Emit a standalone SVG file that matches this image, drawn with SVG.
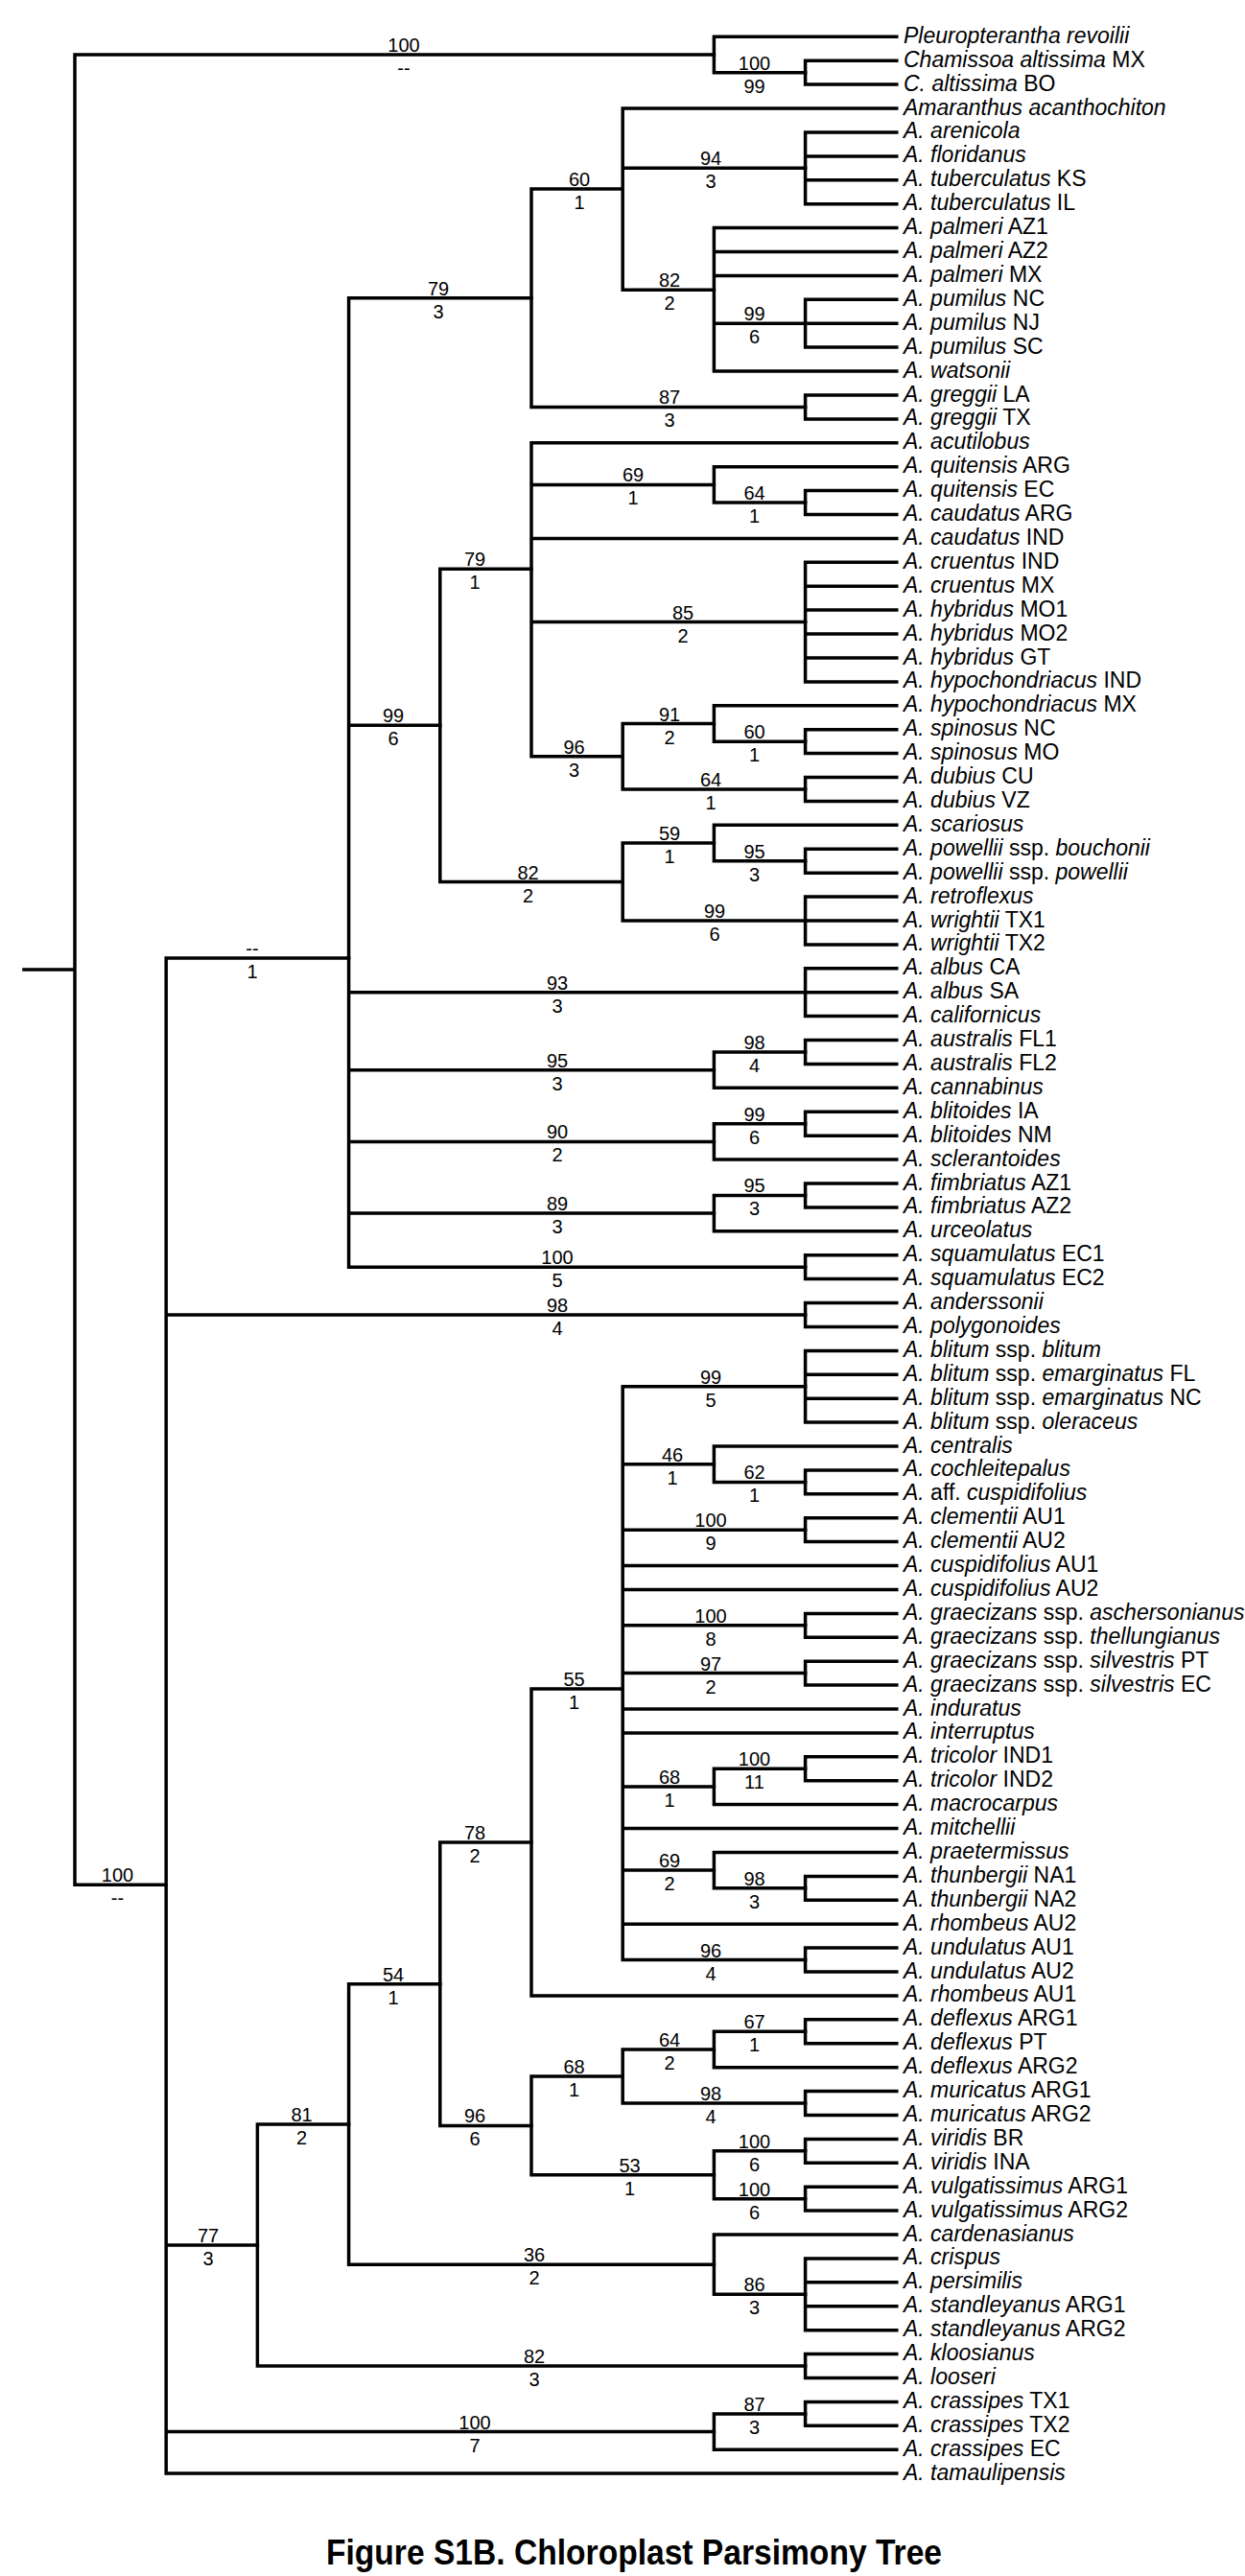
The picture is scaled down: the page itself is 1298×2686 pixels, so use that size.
<svg xmlns="http://www.w3.org/2000/svg" width="1298" height="2686" viewBox="0 0 1298 2686">
<style>
.br{stroke:#000;stroke-width:3.5;fill:none;stroke-linecap:square}
.t{font-family:"Liberation Sans",Arial,sans-serif;font-size:23px;fill:#000}
.i{font-style:italic}
.s{font-family:"Liberation Sans",Arial,sans-serif;font-size:20px;fill:#000;text-anchor:middle}
.ti{font-family:"Liberation Sans",Arial,sans-serif;font-size:36px;font-weight:bold;fill:#000}
</style>
<rect width="1298" height="2686" fill="#fff"/>
<g id="connectors">
<path class="br" d="M25 1011.1H78M78 57V1965.2M78 57H744.4M78 1965.2H173.2"/>
<path class="br" d="M744.4 38.3V75.7M744.4 38.3H934.8M744.4 75.7H839.6"/>
<path class="br" d="M839.6 63.2V88.1M839.6 63.2H934.8M839.6 88.1H934.8"/>
<path class="br" d="M173.2 999.1V2579.1M173.2 999.1H363.6M173.2 1371H839.6M173.2 2341H268.4M173.2 2535.5H744.4M173.2 2579.1H934.8"/>
<path class="br" d="M363.6 310.7V1321.2M363.6 310.7H554M363.6 756.3H458.8M363.6 1034.7H839.6M363.6 1115.7H744.4M363.6 1190.4H744.4M363.6 1265.1H744.4M363.6 1321.2H839.6"/>
<path class="br" d="M554 196.9V424.4M554 196.9H649.2M554 424.4H839.6"/>
<path class="br" d="M649.2 113V302.3M649.2 113H934.8M649.2 175.3H839.6M649.2 302.3H744.4"/>
<path class="br" d="M839.6 137.9V212.7M839.6 137.9H934.8M839.6 162.9H934.8M839.6 187.8H934.8M839.6 212.7H934.8"/>
<path class="br" d="M744.4 237.6V387M744.4 237.6H934.8M744.4 262.5H934.8M744.4 287.4H934.8M744.4 337.2H839.6M744.4 387H934.8"/>
<path class="br" d="M839.6 312.3V362.1M839.6 312.3H934.8M839.6 337.2H934.8M839.6 362.1H934.8"/>
<path class="br" d="M839.6 412V436.9M839.6 412H934.8M839.6 436.9H934.8"/>
<path class="br" d="M458.8 593.2V919.5M458.8 593.2H554M458.8 919.5H649.2"/>
<path class="br" d="M554 461.8V788.7M554 461.8H934.8M554 505.4H744.4M554 561.4H934.8M554 648.6H839.6M554 788.7H649.2"/>
<path class="br" d="M744.4 486.7V524.1M744.4 486.7H934.8M744.4 524.1H839.6"/>
<path class="br" d="M839.6 511.6V536.5M839.6 511.6H934.8M839.6 536.5H934.8"/>
<path class="br" d="M839.6 586.3V710.9M839.6 586.3H934.8M839.6 611.2H934.8M839.6 636.1H934.8M839.6 661.1H934.8M839.6 686H934.8M839.6 710.9H934.8"/>
<path class="br" d="M649.2 754.5V823M649.2 754.5H744.4M649.2 823H839.6"/>
<path class="br" d="M744.4 735.8V773.2M744.4 735.8H934.8M744.4 773.2H839.6"/>
<path class="br" d="M839.6 760.7V785.6M839.6 760.7H934.8M839.6 785.6H934.8"/>
<path class="br" d="M839.6 810.5V835.4M839.6 810.5H934.8M839.6 835.4H934.8"/>
<path class="br" d="M649.2 879V960M649.2 879H744.4M649.2 960H839.6"/>
<path class="br" d="M744.4 860.3V897.7M744.4 860.3H934.8M744.4 897.7H839.6"/>
<path class="br" d="M839.6 885.2V910.2M839.6 885.2H934.8M839.6 910.2H934.8"/>
<path class="br" d="M839.6 935.1V984.9M839.6 935.1H934.8M839.6 960H934.8M839.6 984.9H934.8"/>
<path class="br" d="M839.6 1009.8V1059.6M839.6 1009.8H934.8M839.6 1034.7H934.8M839.6 1059.6H934.8"/>
<path class="br" d="M744.4 1097V1134.3M744.4 1097H839.6M744.4 1134.3H934.8"/>
<path class="br" d="M839.6 1084.5V1109.4M839.6 1084.5H934.8M839.6 1109.4H934.8"/>
<path class="br" d="M744.4 1171.7V1209.1M744.4 1171.7H839.6M744.4 1209.1H934.8"/>
<path class="br" d="M839.6 1159.3V1184.2M839.6 1159.3H934.8M839.6 1184.2H934.8"/>
<path class="br" d="M744.4 1246.4V1283.8M744.4 1246.4H839.6M744.4 1283.8H934.8"/>
<path class="br" d="M839.6 1234V1258.9M839.6 1234H934.8M839.6 1258.9H934.8"/>
<path class="br" d="M839.6 1308.7V1333.6M839.6 1308.7H934.8M839.6 1333.6H934.8"/>
<path class="br" d="M839.6 1358.5V1383.4M839.6 1358.5H934.8M839.6 1383.4H934.8"/>
<path class="br" d="M268.4 2215V2467M268.4 2215H363.6M268.4 2467H839.6"/>
<path class="br" d="M363.6 2068.7V2361.2M363.6 2068.7H458.8M363.6 2361.2H744.4"/>
<path class="br" d="M458.8 1921V2216.4M458.8 1921H554M458.8 2216.4H554"/>
<path class="br" d="M554 1761.1V2080.9M554 1761.1H649.2M554 2080.9H934.8"/>
<path class="br" d="M649.2 1445.7V2043.6M649.2 1445.7H839.6M649.2 1526.7H744.4M649.2 1595.2H839.6M649.2 1632.5H934.8M649.2 1657.5H934.8M649.2 1694.8H839.6M649.2 1744.6H839.6M649.2 1782H934.8M649.2 1806.9H934.8M649.2 1863H744.4M649.2 1906.6H934.8M649.2 1950.1H744.4M649.2 2006.2H934.8M649.2 2043.6H839.6"/>
<path class="br" d="M839.6 1408.4V1483.1M839.6 1408.4H934.8M839.6 1433.3H934.8M839.6 1458.2H934.8M839.6 1483.1H934.8"/>
<path class="br" d="M744.4 1508V1545.4M744.4 1508H934.8M744.4 1545.4H839.6"/>
<path class="br" d="M839.6 1532.9V1557.8M839.6 1532.9H934.8M839.6 1557.8H934.8"/>
<path class="br" d="M839.6 1582.7V1607.6M839.6 1582.7H934.8M839.6 1607.6H934.8"/>
<path class="br" d="M839.6 1682.4V1707.3M839.6 1682.4H934.8M839.6 1707.3H934.8"/>
<path class="br" d="M839.6 1732.2V1757.1M839.6 1732.2H934.8M839.6 1757.1H934.8"/>
<path class="br" d="M744.4 1844.3V1881.6M744.4 1844.3H839.6M744.4 1881.6H934.8"/>
<path class="br" d="M839.6 1831.8V1856.7M839.6 1831.8H934.8M839.6 1856.7H934.8"/>
<path class="br" d="M744.4 1931.5V1968.8M744.4 1931.5H934.8M744.4 1968.8H839.6"/>
<path class="br" d="M839.6 1956.4V1981.3M839.6 1956.4H934.8M839.6 1981.3H934.8"/>
<path class="br" d="M839.6 2031.1V2056M839.6 2031.1H934.8M839.6 2056H934.8"/>
<path class="br" d="M554 2165V2267.7M554 2165H649.2M554 2267.7H744.4"/>
<path class="br" d="M649.2 2137V2193M649.2 2137H744.4M649.2 2193H839.6"/>
<path class="br" d="M744.4 2118.3V2155.7M744.4 2118.3H839.6M744.4 2155.7H934.8"/>
<path class="br" d="M839.6 2105.8V2130.7M839.6 2105.8H934.8M839.6 2130.7H934.8"/>
<path class="br" d="M839.6 2180.6V2205.5M839.6 2180.6H934.8M839.6 2205.5H934.8"/>
<path class="br" d="M744.4 2242.8V2292.7M744.4 2242.8H839.6M744.4 2292.7H839.6"/>
<path class="br" d="M839.6 2230.4V2255.3M839.6 2230.4H934.8M839.6 2255.3H934.8"/>
<path class="br" d="M839.6 2280.2V2305.1M839.6 2280.2H934.8M839.6 2305.1H934.8"/>
<path class="br" d="M744.4 2330V2392.3M744.4 2330H934.8M744.4 2392.3H839.6"/>
<path class="br" d="M839.6 2354.9V2429.7M839.6 2354.9H934.8M839.6 2379.8H934.8M839.6 2404.8H934.8M839.6 2429.7H934.8"/>
<path class="br" d="M839.6 2454.6V2479.5M839.6 2454.6H934.8M839.6 2479.5H934.8"/>
<path class="br" d="M744.4 2516.9V2554.2M744.4 2516.9H839.6M744.4 2554.2H934.8"/>
<path class="br" d="M839.6 2504.4V2529.3M839.6 2504.4H934.8M839.6 2529.3H934.8"/>
</g>
<g id="support-labels">
<g id="n-A"><text class="s" x="421" y="54">100</text><text class="s" x="421" y="78">--</text></g>
<g id="n-B"><text class="s" x="786.5" y="72.7">100</text><text class="s" x="786.5" y="96.7">99</text></g>
<g id="n-G1a"><text class="s" x="741" y="172.3">94</text><text class="s" x="741" y="196.3">3</text></g>
<g id="n-G1"><text class="s" x="604" y="193.9">60</text><text class="s" x="604" y="217.9">1</text></g>
<g id="n-G1b"><text class="s" x="698" y="299.3">82</text><text class="s" x="698" y="323.3">2</text></g>
<g id="n-G1b1"><text class="s" x="786.5" y="334.2">99</text><text class="s" x="786.5" y="358.2">6</text></g>
<g id="n-G"><text class="s" x="457" y="307.7">79</text><text class="s" x="457" y="331.7">3</text></g>
<g id="n-G2"><text class="s" x="698" y="421.4">87</text><text class="s" x="698" y="445.4">3</text></g>
<g id="n-H1a"><text class="s" x="660" y="502.4">69</text><text class="s" x="660" y="526.4">1</text></g>
<g id="n-H1a1"><text class="s" x="786.5" y="521.1">64</text><text class="s" x="786.5" y="545.1">1</text></g>
<g id="n-H1"><text class="s" x="495" y="590.2">79</text><text class="s" x="495" y="614.2">1</text></g>
<g id="n-H1b"><text class="s" x="712" y="645.6">85</text><text class="s" x="712" y="669.6">2</text></g>
<g id="n-H"><text class="s" x="410" y="753.3">99</text><text class="s" x="410" y="777.3">6</text></g>
<g id="n-H1c1"><text class="s" x="698" y="751.5">91</text><text class="s" x="698" y="775.5">2</text></g>
<g id="n-H1c1a"><text class="s" x="786.5" y="770.2">60</text><text class="s" x="786.5" y="794.2">1</text></g>
<g id="n-H1c"><text class="s" x="598.5" y="785.7">96</text><text class="s" x="598.5" y="809.7">3</text></g>
<g id="n-H1c2"><text class="s" x="741" y="820">64</text><text class="s" x="741" y="844">1</text></g>
<g id="n-H2a"><text class="s" x="698" y="876">59</text><text class="s" x="698" y="900">1</text></g>
<g id="n-H2a1"><text class="s" x="786.5" y="894.7">95</text><text class="s" x="786.5" y="918.7">3</text></g>
<g id="n-H2"><text class="s" x="550.5" y="916.5">82</text><text class="s" x="550.5" y="940.5">2</text></g>
<g id="n-H2b"><text class="s" x="745" y="957">99</text><text class="s" x="745" y="981">6</text></g>
<g id="n-C"><text class="s" x="263" y="996.1">--</text><text class="s" x="263" y="1020.1">1</text></g>
<g id="n-J"><text class="s" x="581" y="1031.7">93</text><text class="s" x="581" y="1055.7">3</text></g>
<g id="n-K1"><text class="s" x="786.5" y="1094">98</text><text class="s" x="786.5" y="1118">4</text></g>
<g id="n-K"><text class="s" x="581" y="1112.7">95</text><text class="s" x="581" y="1136.7">3</text></g>
<g id="n-L1"><text class="s" x="786.5" y="1168.7">99</text><text class="s" x="786.5" y="1192.7">6</text></g>
<g id="n-L"><text class="s" x="581" y="1187.4">90</text><text class="s" x="581" y="1211.4">2</text></g>
<g id="n-M1"><text class="s" x="786.5" y="1243.4">95</text><text class="s" x="786.5" y="1267.4">3</text></g>
<g id="n-M"><text class="s" x="581" y="1262.1">89</text><text class="s" x="581" y="1286.1">3</text></g>
<g id="n-N"><text class="s" x="581" y="1318.2">100</text><text class="s" x="581" y="1342.2">5</text></g>
<g id="n-D"><text class="s" x="581" y="1368">98</text><text class="s" x="581" y="1392">4</text></g>
<g id="n-P1"><text class="s" x="741" y="1442.7">99</text><text class="s" x="741" y="1466.7">5</text></g>
<g id="n-P2"><text class="s" x="701" y="1523.7">46</text><text class="s" x="701" y="1547.7">1</text></g>
<g id="n-P2a"><text class="s" x="786.5" y="1542.4">62</text><text class="s" x="786.5" y="1566.4">1</text></g>
<g id="n-P3"><text class="s" x="741" y="1592.2">100</text><text class="s" x="741" y="1616.2">9</text></g>
<g id="n-P4"><text class="s" x="741" y="1691.8">100</text><text class="s" x="741" y="1715.8">8</text></g>
<g id="n-P5"><text class="s" x="741" y="1741.6">97</text><text class="s" x="741" y="1765.6">2</text></g>
<g id="n-E1a1a"><text class="s" x="598.5" y="1758.1">55</text><text class="s" x="598.5" y="1782.1">1</text></g>
<g id="n-P6a"><text class="s" x="786.5" y="1841.3">100</text><text class="s" x="786.5" y="1865.3">11</text></g>
<g id="n-P6"><text class="s" x="698" y="1860">68</text><text class="s" x="698" y="1884">1</text></g>
<g id="n-E1a1"><text class="s" x="495" y="1918">78</text><text class="s" x="495" y="1942">2</text></g>
<g id="n-P7"><text class="s" x="698" y="1947.1">69</text><text class="s" x="698" y="1971.1">2</text></g>
<g id="n-P7a"><text class="s" x="786.5" y="1965.8">98</text><text class="s" x="786.5" y="1989.8">3</text></g>
<g id="n-P8"><text class="s" x="741" y="2040.6">96</text><text class="s" x="741" y="2064.6">4</text></g>
<g id="n-I"><text class="s" x="122.5" y="1962.2">100</text><text class="s" x="122.5" y="1986.2">--</text></g>
<g id="n-E1a"><text class="s" x="410" y="2065.7">54</text><text class="s" x="410" y="2089.7">1</text></g>
<g id="n-Q1a1"><text class="s" x="786.5" y="2115.3">67</text><text class="s" x="786.5" y="2139.3">1</text></g>
<g id="n-Q1a"><text class="s" x="698" y="2134">64</text><text class="s" x="698" y="2158">2</text></g>
<g id="n-Q1"><text class="s" x="598.5" y="2162">68</text><text class="s" x="598.5" y="2186">1</text></g>
<g id="n-Q1b"><text class="s" x="741" y="2190">98</text><text class="s" x="741" y="2214">4</text></g>
<g id="n-E1"><text class="s" x="314.6" y="2212">81</text><text class="s" x="314.6" y="2236">2</text></g>
<g id="n-E1a2"><text class="s" x="495" y="2213.4">96</text><text class="s" x="495" y="2237.4">6</text></g>
<g id="n-Q2a"><text class="s" x="786.5" y="2239.8">100</text><text class="s" x="786.5" y="2263.8">6</text></g>
<g id="n-Q2"><text class="s" x="656.5" y="2264.7">53</text><text class="s" x="656.5" y="2288.7">1</text></g>
<g id="n-Q2b"><text class="s" x="786.5" y="2289.7">100</text><text class="s" x="786.5" y="2313.7">6</text></g>
<g id="n-E"><text class="s" x="217" y="2338">77</text><text class="s" x="217" y="2362">3</text></g>
<g id="n-E1b"><text class="s" x="557" y="2358.2">36</text><text class="s" x="557" y="2382.2">2</text></g>
<g id="n-E1b1"><text class="s" x="786.5" y="2389.3">86</text><text class="s" x="786.5" y="2413.3">3</text></g>
<g id="n-E2"><text class="s" x="557" y="2464">82</text><text class="s" x="557" y="2488">3</text></g>
<g id="n-F1"><text class="s" x="786.5" y="2513.9">87</text><text class="s" x="786.5" y="2537.9">3</text></g>
<g id="n-F"><text class="s" x="495" y="2532.5">100</text><text class="s" x="495" y="2556.5">7</text></g>
</g>
<g id="taxa">
<g id="leaf-1"><text class="t" x="942" y="44.8"><tspan class="i">Pleuropterantha revoilii</tspan></text></g>
<g id="leaf-2"><text class="t" x="942" y="69.7"><tspan class="i">Chamissoa altissima</tspan> MX</text></g>
<g id="leaf-3"><text class="t" x="942" y="94.6"><tspan class="i">C. altissima</tspan> BO</text></g>
<g id="leaf-4"><text class="t" x="942" y="119.5"><tspan class="i">Amaranthus acanthochiton</tspan></text></g>
<g id="leaf-5"><text class="t" x="942" y="144.4"><tspan class="i">A. arenicola</tspan></text></g>
<g id="leaf-6"><text class="t" x="942" y="169.4"><tspan class="i">A. floridanus</tspan></text></g>
<g id="leaf-7"><text class="t" x="942" y="194.3"><tspan class="i">A. tuberculatus</tspan> KS</text></g>
<g id="leaf-8"><text class="t" x="942" y="219.2"><tspan class="i">A. tuberculatus</tspan> IL</text></g>
<g id="leaf-9"><text class="t" x="942" y="244.1"><tspan class="i">A. palmeri</tspan> AZ1</text></g>
<g id="leaf-10"><text class="t" x="942" y="269"><tspan class="i">A. palmeri</tspan> AZ2</text></g>
<g id="leaf-11"><text class="t" x="942" y="293.9"><tspan class="i">A. palmeri</tspan> MX</text></g>
<g id="leaf-12"><text class="t" x="942" y="318.8"><tspan class="i">A. pumilus</tspan> NC</text></g>
<g id="leaf-13"><text class="t" x="942" y="343.7"><tspan class="i">A. pumilus</tspan> NJ</text></g>
<g id="leaf-14"><text class="t" x="942" y="368.6"><tspan class="i">A. pumilus</tspan> SC</text></g>
<g id="leaf-15"><text class="t" x="942" y="393.5"><tspan class="i">A. watsonii</tspan></text></g>
<g id="leaf-16"><text class="t" x="942" y="418.5"><tspan class="i">A. greggii</tspan> LA</text></g>
<g id="leaf-17"><text class="t" x="942" y="443.4"><tspan class="i">A. greggii</tspan> TX</text></g>
<g id="leaf-18"><text class="t" x="942" y="468.3"><tspan class="i">A. acutilobus</tspan></text></g>
<g id="leaf-19"><text class="t" x="942" y="493.2"><tspan class="i">A. quitensis</tspan> ARG</text></g>
<g id="leaf-20"><text class="t" x="942" y="518.1"><tspan class="i">A. quitensis</tspan> EC</text></g>
<g id="leaf-21"><text class="t" x="942" y="543"><tspan class="i">A. caudatus</tspan> ARG</text></g>
<g id="leaf-22"><text class="t" x="942" y="567.9"><tspan class="i">A. caudatus</tspan> IND</text></g>
<g id="leaf-23"><text class="t" x="942" y="592.8"><tspan class="i">A. cruentus</tspan> IND</text></g>
<g id="leaf-24"><text class="t" x="942" y="617.7"><tspan class="i">A. cruentus</tspan> MX</text></g>
<g id="leaf-25"><text class="t" x="942" y="642.6"><tspan class="i">A. hybridus</tspan> MO1</text></g>
<g id="leaf-26"><text class="t" x="942" y="667.6"><tspan class="i">A. hybridus</tspan> MO2</text></g>
<g id="leaf-27"><text class="t" x="942" y="692.5"><tspan class="i">A. hybridus</tspan> GT</text></g>
<g id="leaf-28"><text class="t" x="942" y="717.4"><tspan class="i">A. hypochondriacus</tspan> IND</text></g>
<g id="leaf-29"><text class="t" x="942" y="742.3"><tspan class="i">A. hypochondriacus</tspan> MX</text></g>
<g id="leaf-30"><text class="t" x="942" y="767.2"><tspan class="i">A. spinosus</tspan> NC</text></g>
<g id="leaf-31"><text class="t" x="942" y="792.1"><tspan class="i">A. spinosus</tspan> MO</text></g>
<g id="leaf-32"><text class="t" x="942" y="817"><tspan class="i">A. dubius</tspan> CU</text></g>
<g id="leaf-33"><text class="t" x="942" y="841.9"><tspan class="i">A. dubius</tspan> VZ</text></g>
<g id="leaf-34"><text class="t" x="942" y="866.8"><tspan class="i">A. scariosus</tspan></text></g>
<g id="leaf-35"><text class="t" x="942" y="891.7"><tspan class="i">A. powellii</tspan> ssp. <tspan class="i">bouchonii</tspan></text></g>
<g id="leaf-36"><text class="t" x="942" y="916.7"><tspan class="i">A. powellii</tspan> ssp. <tspan class="i">powellii</tspan></text></g>
<g id="leaf-37"><text class="t" x="942" y="941.6"><tspan class="i">A. retroflexus</tspan></text></g>
<g id="leaf-38"><text class="t" x="942" y="966.5"><tspan class="i">A. wrightii</tspan> TX1</text></g>
<g id="leaf-39"><text class="t" x="942" y="991.4"><tspan class="i">A. wrightii</tspan> TX2</text></g>
<g id="leaf-40"><text class="t" x="942" y="1016.3"><tspan class="i">A. albus</tspan> CA</text></g>
<g id="leaf-41"><text class="t" x="942" y="1041.2"><tspan class="i">A. albus</tspan> SA</text></g>
<g id="leaf-42"><text class="t" x="942" y="1066.1"><tspan class="i">A. californicus</tspan></text></g>
<g id="leaf-43"><text class="t" x="942" y="1091"><tspan class="i">A. australis</tspan> FL1</text></g>
<g id="leaf-44"><text class="t" x="942" y="1115.9"><tspan class="i">A. australis</tspan> FL2</text></g>
<g id="leaf-45"><text class="t" x="942" y="1140.8"><tspan class="i">A. cannabinus</tspan></text></g>
<g id="leaf-46"><text class="t" x="942" y="1165.8"><tspan class="i">A. blitoides</tspan> IA</text></g>
<g id="leaf-47"><text class="t" x="942" y="1190.7"><tspan class="i">A. blitoides</tspan> NM</text></g>
<g id="leaf-48"><text class="t" x="942" y="1215.6"><tspan class="i">A. sclerantoides</tspan></text></g>
<g id="leaf-49"><text class="t" x="942" y="1240.5"><tspan class="i">A. fimbriatus</tspan> AZ1</text></g>
<g id="leaf-50"><text class="t" x="942" y="1265.4"><tspan class="i">A. fimbriatus</tspan> AZ2</text></g>
<g id="leaf-51"><text class="t" x="942" y="1290.3"><tspan class="i">A. urceolatus</tspan></text></g>
<g id="leaf-52"><text class="t" x="942" y="1315.2"><tspan class="i">A. squamulatus</tspan> EC1</text></g>
<g id="leaf-53"><text class="t" x="942" y="1340.1"><tspan class="i">A. squamulatus</tspan> EC2</text></g>
<g id="leaf-54"><text class="t" x="942" y="1365"><tspan class="i">A. anderssonii</tspan></text></g>
<g id="leaf-55"><text class="t" x="942" y="1389.9"><tspan class="i">A. polygonoides</tspan></text></g>
<g id="leaf-56"><text class="t" x="942" y="1414.9"><tspan class="i">A. blitum</tspan> ssp. <tspan class="i">blitum</tspan></text></g>
<g id="leaf-57"><text class="t" x="942" y="1439.8"><tspan class="i">A. blitum</tspan> ssp. <tspan class="i">emarginatus</tspan> FL</text></g>
<g id="leaf-58"><text class="t" x="942" y="1464.7"><tspan class="i">A. blitum</tspan> ssp. <tspan class="i">emarginatus</tspan> NC</text></g>
<g id="leaf-59"><text class="t" x="942" y="1489.6"><tspan class="i">A. blitum</tspan> ssp. <tspan class="i">oleraceus</tspan></text></g>
<g id="leaf-60"><text class="t" x="942" y="1514.5"><tspan class="i">A. centralis</tspan></text></g>
<g id="leaf-61"><text class="t" x="942" y="1539.4"><tspan class="i">A. cochleitepalus</tspan></text></g>
<g id="leaf-62"><text class="t" x="942" y="1564.3"><tspan class="i">A.</tspan> aff. <tspan class="i">cuspidifolius</tspan></text></g>
<g id="leaf-63"><text class="t" x="942" y="1589.2"><tspan class="i">A. clementii</tspan> AU1</text></g>
<g id="leaf-64"><text class="t" x="942" y="1614.1"><tspan class="i">A. clementii</tspan> AU2</text></g>
<g id="leaf-65"><text class="t" x="942" y="1639"><tspan class="i">A. cuspidifolius</tspan> AU1</text></g>
<g id="leaf-66"><text class="t" x="942" y="1664"><tspan class="i">A. cuspidifolius</tspan> AU2</text></g>
<g id="leaf-67"><text class="t" x="942" y="1688.9"><tspan class="i">A. graecizans</tspan> ssp. <tspan class="i">aschersonianus</tspan></text></g>
<g id="leaf-68"><text class="t" x="942" y="1713.8"><tspan class="i">A. graecizans</tspan> ssp. <tspan class="i">thellungianus</tspan></text></g>
<g id="leaf-69"><text class="t" x="942" y="1738.7"><tspan class="i">A. graecizans</tspan> ssp. <tspan class="i">silvestris</tspan> PT</text></g>
<g id="leaf-70"><text class="t" x="942" y="1763.6"><tspan class="i">A. graecizans</tspan> ssp. <tspan class="i">silvestris</tspan> EC</text></g>
<g id="leaf-71"><text class="t" x="942" y="1788.5"><tspan class="i">A. induratus</tspan></text></g>
<g id="leaf-72"><text class="t" x="942" y="1813.4"><tspan class="i">A. interruptus</tspan></text></g>
<g id="leaf-73"><text class="t" x="942" y="1838.3"><tspan class="i">A. tricolor</tspan> IND1</text></g>
<g id="leaf-74"><text class="t" x="942" y="1863.2"><tspan class="i">A. tricolor</tspan> IND2</text></g>
<g id="leaf-75"><text class="t" x="942" y="1888.1"><tspan class="i">A. macrocarpus</tspan></text></g>
<g id="leaf-76"><text class="t" x="942" y="1913.1"><tspan class="i">A. mitchellii</tspan></text></g>
<g id="leaf-77"><text class="t" x="942" y="1938"><tspan class="i">A. praetermissus</tspan></text></g>
<g id="leaf-78"><text class="t" x="942" y="1962.9"><tspan class="i">A. thunbergii</tspan> NA1</text></g>
<g id="leaf-79"><text class="t" x="942" y="1987.8"><tspan class="i">A. thunbergii</tspan> NA2</text></g>
<g id="leaf-80"><text class="t" x="942" y="2012.7"><tspan class="i">A. rhombeus</tspan> AU2</text></g>
<g id="leaf-81"><text class="t" x="942" y="2037.6"><tspan class="i">A. undulatus</tspan> AU1</text></g>
<g id="leaf-82"><text class="t" x="942" y="2062.5"><tspan class="i">A. undulatus</tspan> AU2</text></g>
<g id="leaf-83"><text class="t" x="942" y="2087.4"><tspan class="i">A. rhombeus</tspan> AU1</text></g>
<g id="leaf-84"><text class="t" x="942" y="2112.3"><tspan class="i">A. deflexus</tspan> ARG1</text></g>
<g id="leaf-85"><text class="t" x="942" y="2137.2"><tspan class="i">A. deflexus</tspan> PT</text></g>
<g id="leaf-86"><text class="t" x="942" y="2162.2"><tspan class="i">A. deflexus</tspan> ARG2</text></g>
<g id="leaf-87"><text class="t" x="942" y="2187.1"><tspan class="i">A. muricatus</tspan> ARG1</text></g>
<g id="leaf-88"><text class="t" x="942" y="2212"><tspan class="i">A. muricatus</tspan> ARG2</text></g>
<g id="leaf-89"><text class="t" x="942" y="2236.9"><tspan class="i">A. viridis</tspan> BR</text></g>
<g id="leaf-90"><text class="t" x="942" y="2261.8"><tspan class="i">A. viridis</tspan> INA</text></g>
<g id="leaf-91"><text class="t" x="942" y="2286.7"><tspan class="i">A. vulgatissimus</tspan> ARG1</text></g>
<g id="leaf-92"><text class="t" x="942" y="2311.6"><tspan class="i">A. vulgatissimus</tspan> ARG2</text></g>
<g id="leaf-93"><text class="t" x="942" y="2336.5"><tspan class="i">A. cardenasianus</tspan></text></g>
<g id="leaf-94"><text class="t" x="942" y="2361.4"><tspan class="i">A. crispus</tspan></text></g>
<g id="leaf-95"><text class="t" x="942" y="2386.3"><tspan class="i">A. persimilis</tspan></text></g>
<g id="leaf-96"><text class="t" x="942" y="2411.3"><tspan class="i">A. standleyanus</tspan> ARG1</text></g>
<g id="leaf-97"><text class="t" x="942" y="2436.2"><tspan class="i">A. standleyanus</tspan> ARG2</text></g>
<g id="leaf-98"><text class="t" x="942" y="2461.1"><tspan class="i">A. kloosianus</tspan></text></g>
<g id="leaf-99"><text class="t" x="942" y="2486"><tspan class="i">A. looseri</tspan></text></g>
<g id="leaf-100"><text class="t" x="942" y="2510.9"><tspan class="i">A. crassipes</tspan> TX1</text></g>
<g id="leaf-101"><text class="t" x="942" y="2535.8"><tspan class="i">A. crassipes</tspan> TX2</text></g>
<g id="leaf-102"><text class="t" x="942" y="2560.7"><tspan class="i">A. crassipes</tspan> EC</text></g>
<g id="leaf-103"><text class="t" x="942" y="2585.6"><tspan class="i">A. tamaulipensis</tspan></text></g>
</g>
<g id="title"><text class="ti" x="340" y="2674" textLength="642" lengthAdjust="spacingAndGlyphs">Figure S1B. Chloroplast Parsimony Tree</text></g>
</svg>
